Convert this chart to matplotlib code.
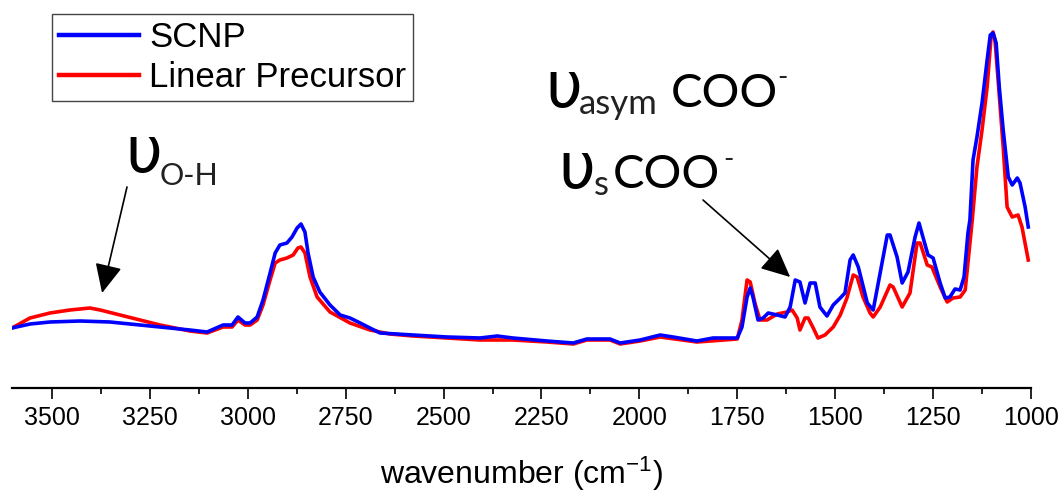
import matplotlib
matplotlib.use("Agg")
import matplotlib.pyplot as plt
from matplotlib.ticker import MultipleLocator

# FTIR spectra (absorbance in arbitrary units)
scnp_wn = [3602, 3556, 3505, 3428, 3352, 3275, 3199, 3148, 3104, 3063, 3040, 3025,
           3007, 2994, 2976, 2961, 2943, 2930, 2918, 2900, 2887, 2874, 2864, 2854,
           2846, 2833, 2816, 2790, 2764, 2739, 2713, 2688, 2662, 2578, 2491, 2407,
           2363, 2323, 2236, 2169, 2134, 2075, 2049, 1998, 1947, 1914, 1853, 1812,
           1750, 1738, 1725, 1717, 1710, 1697, 1684, 1671, 1648, 1628, 1615, 1602,
           1590, 1577, 1564, 1551, 1539, 1521, 1505, 1487, 1475, 1462, 1454, 1441,
           1418, 1403, 1390, 1367, 1360, 1342, 1329, 1314, 1296, 1286, 1276, 1263,
           1250, 1232, 1219, 1207, 1194, 1181, 1171, 1161, 1156, 1148, 1138, 1125,
           1112, 1104, 1097, 1089, 1081, 1071, 1058, 1048, 1035, 1028, 1015, 1007]
scnp_abs = [0.72, 0.76, 0.78, 0.79, 0.78, 0.75, 0.72, 0.70, 0.68, 0.75, 0.75, 0.83,
            0.77, 0.77, 0.83, 1.00, 1.27, 1.47, 1.55, 1.57, 1.63, 1.72, 1.76, 1.68,
            1.47, 1.23, 1.08, 0.95, 0.85, 0.82, 0.77, 0.72, 0.67, 0.65, 0.63, 0.62,
            0.64, 0.62, 0.59, 0.57, 0.61, 0.61, 0.57, 0.60, 0.65, 0.63, 0.59, 0.62,
            0.62, 0.73, 1.03, 1.12, 1.03, 0.80, 0.82, 0.87, 0.85, 0.83, 0.93, 1.20,
            1.18, 0.97, 1.17, 1.17, 0.93, 0.84, 0.95, 1.02, 1.07, 1.40, 1.45, 1.33,
            0.97, 0.90, 1.17, 1.65, 1.65, 1.43, 1.17, 1.28, 1.63, 1.77, 1.63, 1.45,
            1.42, 1.17, 1.02, 1.03, 1.11, 1.10, 1.23, 1.67, 1.80, 2.40, 2.63, 2.97,
            3.40, 3.65, 3.67, 3.57, 3.13, 2.70, 2.23, 2.15, 2.22, 2.17, 1.93, 1.73]

lin_wn = [3602, 3556, 3505, 3454, 3403, 3377, 3326, 3275, 3224, 3173, 3148, 3104,
          3063, 3040, 3025, 3007, 2994, 2976, 2961, 2943, 2930, 2918, 2900, 2884,
          2872, 2864, 2854, 2841, 2823, 2790, 2739, 2688, 2637, 2578, 2491, 2407,
          2323, 2236, 2169, 2134, 2075, 2049, 1998, 1947, 1853, 1750, 1738, 1725,
          1717, 1705, 1692, 1674, 1648, 1623, 1610, 1597, 1590, 1577, 1569, 1556,
          1544, 1526, 1505, 1487, 1470, 1454, 1444, 1429, 1411, 1403, 1385, 1360,
          1352, 1329, 1309, 1291, 1283, 1265, 1253, 1232, 1214, 1199, 1181, 1168,
          1150, 1138, 1125, 1112, 1102, 1097, 1092, 1084, 1071, 1061, 1048, 1033,
          1023, 1007]
lin_abs = [0.72, 0.82, 0.87, 0.90, 0.92, 0.90, 0.85, 0.80, 0.75, 0.71, 0.69, 0.67,
           0.73, 0.73, 0.80, 0.75, 0.75, 0.80, 0.95, 1.20, 1.37, 1.40, 1.42, 1.45,
           1.52, 1.53, 1.47, 1.23, 1.03, 0.88, 0.77, 0.70, 0.66, 0.64, 0.62, 0.60,
           0.60, 0.58, 0.56, 0.60, 0.60, 0.56, 0.59, 0.63, 0.58, 0.61, 0.80, 1.20,
           1.18, 0.97, 0.80, 0.80, 0.86, 0.88, 0.90, 0.82, 0.70, 0.82, 0.82, 0.72,
           0.62, 0.65, 0.73, 0.85, 1.02, 1.25, 1.23, 1.03, 0.87, 0.83, 0.93, 1.15,
           1.13, 0.93, 1.07, 1.57, 1.57, 1.35, 1.33, 1.13, 0.98, 1.02, 1.03, 1.10,
           1.80, 2.33, 2.70, 3.13, 3.63, 3.68, 3.60, 3.20, 2.53, 1.93, 1.83, 1.85,
           1.73, 1.40]

xticks = [3500, 3250, 3000, 2750, 2500, 2250, 2000, 1750, 1500, 1250, 1000]

plt.rcParams['font.family'] = ['Liberation Sans', 'DejaVu Sans']
plt.rcParams['mathtext.default'] = 'regular'

W, H = 1063, 499
fig = plt.figure(figsize=(W / 100, H / 100), dpi=100)
ax = fig.add_axes([12 / W, 111 / H, 1019 / W, 388 / H])

ax.plot(lin_wn, lin_abs, color='#ff0000', lw=2.6, label='Linear Precursor', zorder=2)
ax.plot(scnp_wn, scnp_abs, color='#0000ff', lw=2.6, label='SCNP', zorder=3)

ax.set_xlim(3602, 1000)
ax.set_ylim(0.12, 4.0)
ax.set_xticks(xticks)
ax.xaxis.set_minor_locator(MultipleLocator(125))
ax.set_yticks([])
for s in ['top', 'left', 'right']:
    ax.spines[s].set_visible(False)
ax.spines['bottom'].set_linewidth(1.6)
ax.tick_params(axis='x', which='major', direction='out', length=8, width=1.2,
               labelsize=18, pad=5, colors='black')
ax.tick_params(axis='x', which='minor', direction='out', length=4.5, width=1.2)
ax.set_xlabel('wavenumber (cm$^{-1}$)', fontsize=23, labelpad=18)

h, l = ax.get_legend_handles_labels()
leg = ax.legend(h[::-1], l[::-1], loc='upper left', bbox_to_anchor=(52 / W, 1 - 14 / H),
                bbox_transform=fig.transFigure, borderaxespad=0, fontsize=25,
                fancybox=False, edgecolor='#444444', framealpha=1, borderpad=0.2,
                handlelength=2.3, handletextpad=0.3, labelspacing=0.2)
leg.get_frame().set_linewidth(1.0)
for ln in leg.get_lines():
    ln.set_linewidth(3.2)


def px(x, y):
    return x / W, 1 - y / H


greek = dict(family=['DejaVu Sans'], fontsize=46, color='black', va='baseline', ha='left')
main = dict(family=['Lato', 'DejaVu Sans'], fontsize=34, color='black', va='baseline', ha='left')
sub = dict(family=['Lato', 'DejaVu Sans'], fontsize=25, color='#222222', va='baseline', ha='left')

# O-H label
fig.text(*px(125, 172), 'υ', **greek)
fig.text(*px(160, 185), 'O-H', **dict(sub, fontsize=22))
# asym COO- label
fig.text(*px(545, 107), 'υ', **greek)
fig.text(*px(579, 114), 'asym', **sub)
fig.text(*px(671, 107), 'COO', **main)
fig.text(*px(777, 86), '-', **dict(sub, fontsize=20))
# s COO- label
fig.text(*px(558, 188), 'υ', **greek)
fig.text(*px(594, 195), 's', **sub)
fig.text(*px(613, 188), 'COO', **main)
fig.text(*px(723, 168), '-', **dict(sub, fontsize=20))

arrow = dict(arrowstyle='-|>,head_length=0.9,head_width=0.42', color='black',
             lw=1.2, shrinkA=0, shrinkB=0, mutation_scale=20)
ax.annotate('', xy=(3372, 1.07), xycoords='data', xytext=(127, H - 187),
            textcoords='figure pixels', arrowprops=arrow)
ax.annotate('', xy=(1615, 1.23), xycoords='data', xytext=(703, H - 200),
            textcoords='figure pixels', arrowprops=arrow)

fig.savefig('out.png', dpi=100)
